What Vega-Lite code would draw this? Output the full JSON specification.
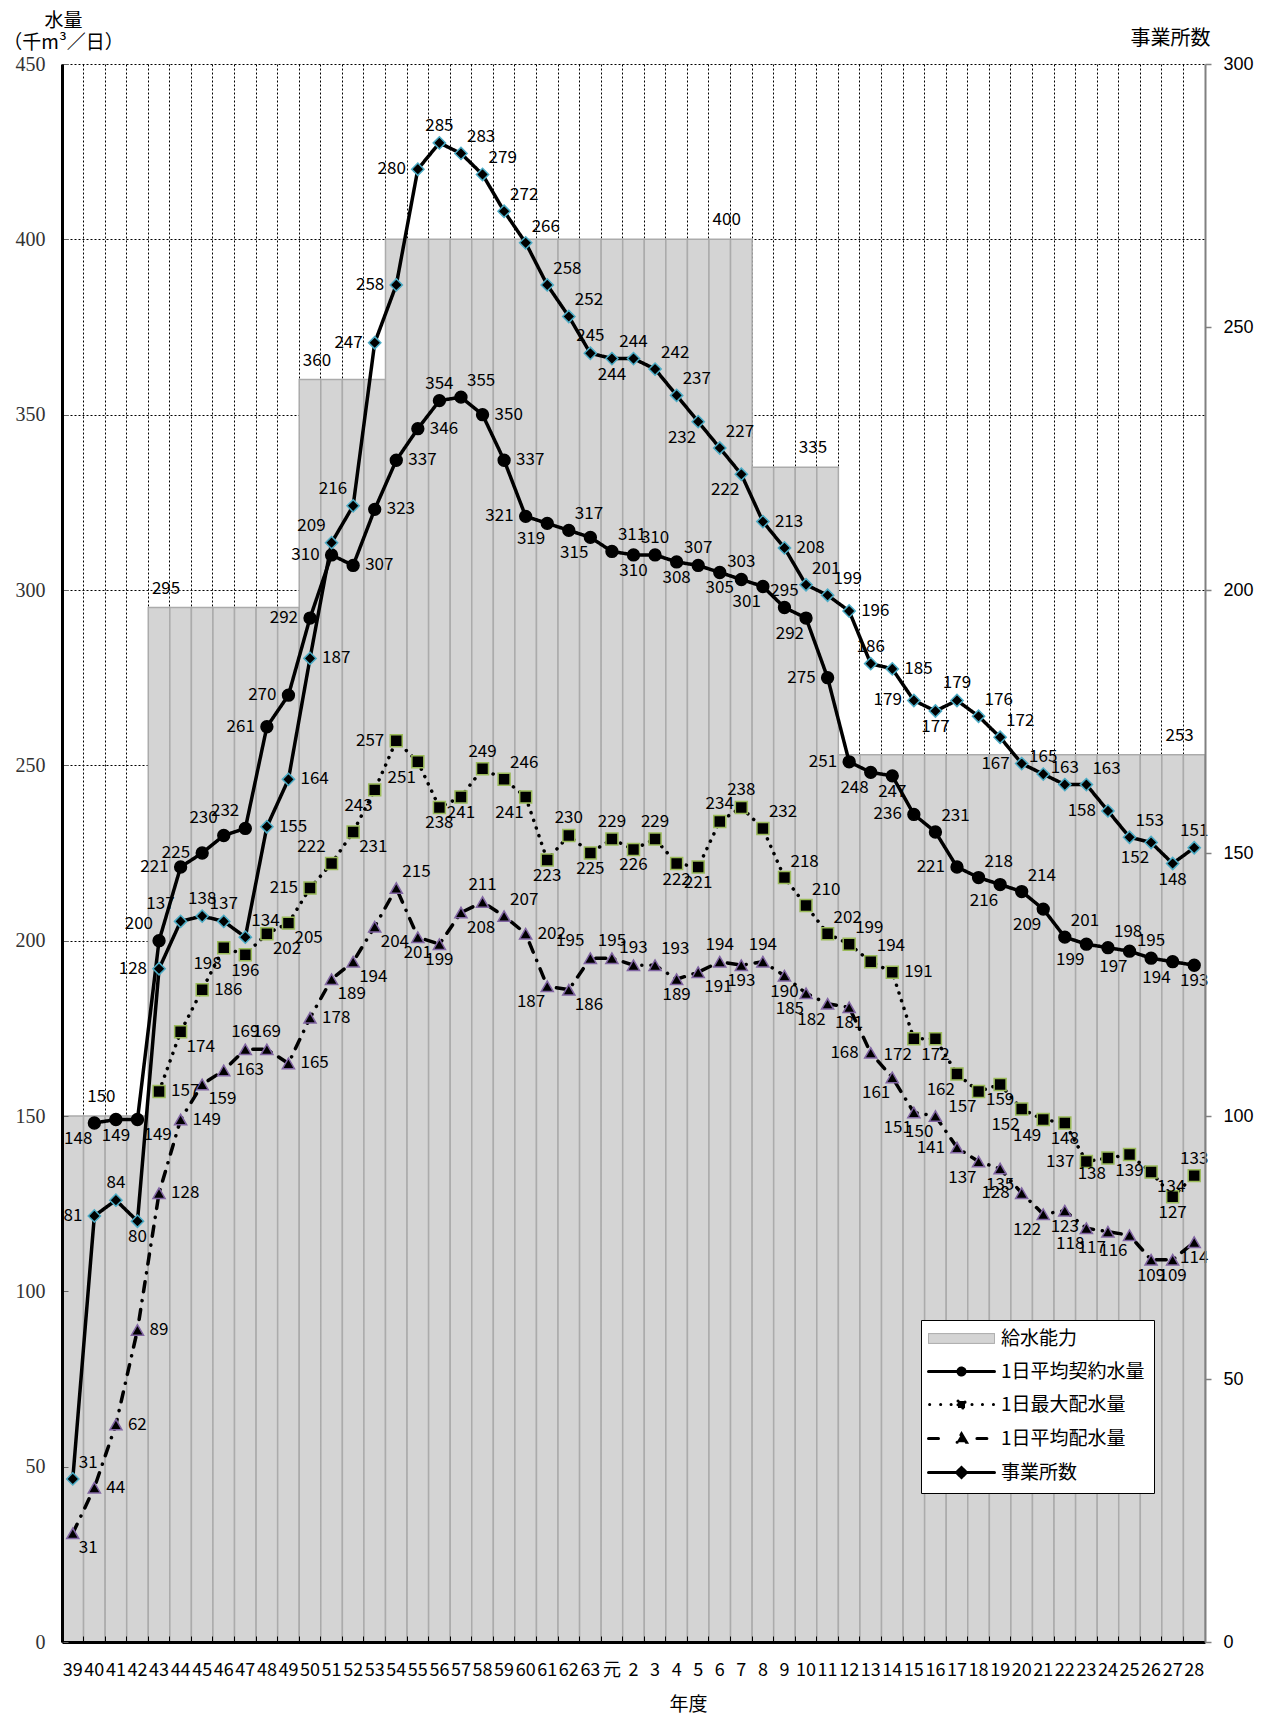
{
  "$schema": "https://vega.github.io/schema/vega-lite/v6.json",
  "width": 1143,
  "height": 1578,
  "autosize": {"type": "none"},
  "padding": {"left": 62, "top": 64, "right": 61, "bottom": 76},
  "background": "white",
  "config": {
    "font": "Noto Sans CJK JP",
    "view": {"stroke": null},
    "text": {"font": "Noto Sans CJK JP", "fontSize": 17, "color": "black"}
  },
  "datasets": {
    "cap": [
      {"yr":"39","cap":150},{"yr":"40","cap":150},{"yr":"41","cap":150},{"yr":"42","cap":150},
      {"yr":"43","cap":295},{"yr":"44","cap":295},{"yr":"45","cap":295},{"yr":"46","cap":295},{"yr":"47","cap":295},{"yr":"48","cap":295},{"yr":"49","cap":295},
      {"yr":"50","cap":360},{"yr":"51","cap":360},{"yr":"52","cap":360},{"yr":"53","cap":360},
      {"yr":"54","cap":400},{"yr":"55","cap":400},{"yr":"56","cap":400},{"yr":"57","cap":400},{"yr":"58","cap":400},{"yr":"59","cap":400},{"yr":"60","cap":400},{"yr":"61","cap":400},{"yr":"62","cap":400},{"yr":"63","cap":400},
      {"yr":"元","cap":400},{"yr":"2","cap":400},{"yr":"3","cap":400},{"yr":"4","cap":400},{"yr":"5","cap":400},{"yr":"6","cap":400},{"yr":"7","cap":400},
      {"yr":"8","cap":335},{"yr":"9","cap":335},{"yr":"10","cap":335},{"yr":"11","cap":335},
      {"yr":"12","cap":253},{"yr":"13","cap":253},{"yr":"14","cap":253},{"yr":"15","cap":253},{"yr":"16","cap":253},{"yr":"17","cap":253},{"yr":"18","cap":253},{"yr":"19","cap":253},{"yr":"20","cap":253},{"yr":"21","cap":253},{"yr":"22","cap":253},{"yr":"23","cap":253},{"yr":"24","cap":253},{"yr":"25","cap":253},{"yr":"26","cap":253},{"yr":"27","cap":253},{"yr":"28","cap":253}
    ],
    "pts": [
      {"yr":"40","s":"1日平均契約水量","v":148},{"yr":"41","s":"1日平均契約水量","v":149},{"yr":"42","s":"1日平均契約水量","v":149},{"yr":"43","s":"1日平均契約水量","v":200},{"yr":"44","s":"1日平均契約水量","v":221},{"yr":"45","s":"1日平均契約水量","v":225},{"yr":"46","s":"1日平均契約水量","v":230},{"yr":"47","s":"1日平均契約水量","v":232},{"yr":"48","s":"1日平均契約水量","v":261},{"yr":"49","s":"1日平均契約水量","v":270},{"yr":"50","s":"1日平均契約水量","v":292},{"yr":"51","s":"1日平均契約水量","v":310},{"yr":"52","s":"1日平均契約水量","v":307},{"yr":"53","s":"1日平均契約水量","v":323},{"yr":"54","s":"1日平均契約水量","v":337},{"yr":"55","s":"1日平均契約水量","v":346},{"yr":"56","s":"1日平均契約水量","v":354},{"yr":"57","s":"1日平均契約水量","v":355},{"yr":"58","s":"1日平均契約水量","v":350},{"yr":"59","s":"1日平均契約水量","v":337},{"yr":"60","s":"1日平均契約水量","v":321},{"yr":"61","s":"1日平均契約水量","v":319},{"yr":"62","s":"1日平均契約水量","v":317},{"yr":"63","s":"1日平均契約水量","v":315},{"yr":"元","s":"1日平均契約水量","v":311},{"yr":"2","s":"1日平均契約水量","v":310},{"yr":"3","s":"1日平均契約水量","v":310},{"yr":"4","s":"1日平均契約水量","v":308},{"yr":"5","s":"1日平均契約水量","v":307},{"yr":"6","s":"1日平均契約水量","v":305},{"yr":"7","s":"1日平均契約水量","v":303},{"yr":"8","s":"1日平均契約水量","v":301},{"yr":"9","s":"1日平均契約水量","v":295},{"yr":"10","s":"1日平均契約水量","v":292},{"yr":"11","s":"1日平均契約水量","v":275},{"yr":"12","s":"1日平均契約水量","v":251},{"yr":"13","s":"1日平均契約水量","v":248},{"yr":"14","s":"1日平均契約水量","v":247},{"yr":"15","s":"1日平均契約水量","v":236},{"yr":"16","s":"1日平均契約水量","v":231},{"yr":"17","s":"1日平均契約水量","v":221},{"yr":"18","s":"1日平均契約水量","v":218},{"yr":"19","s":"1日平均契約水量","v":216},{"yr":"20","s":"1日平均契約水量","v":214},{"yr":"21","s":"1日平均契約水量","v":209},{"yr":"22","s":"1日平均契約水量","v":201},{"yr":"23","s":"1日平均契約水量","v":199},{"yr":"24","s":"1日平均契約水量","v":198},{"yr":"25","s":"1日平均契約水量","v":197},{"yr":"26","s":"1日平均契約水量","v":195},{"yr":"27","s":"1日平均契約水量","v":194},{"yr":"28","s":"1日平均契約水量","v":193},
      {"yr":"43","s":"1日最大配水量","v":157},{"yr":"44","s":"1日最大配水量","v":174},{"yr":"45","s":"1日最大配水量","v":186},{"yr":"46","s":"1日最大配水量","v":198},{"yr":"47","s":"1日最大配水量","v":196},{"yr":"48","s":"1日最大配水量","v":202},{"yr":"49","s":"1日最大配水量","v":205},{"yr":"50","s":"1日最大配水量","v":215},{"yr":"51","s":"1日最大配水量","v":222},{"yr":"52","s":"1日最大配水量","v":231},{"yr":"53","s":"1日最大配水量","v":243},{"yr":"54","s":"1日最大配水量","v":257},{"yr":"55","s":"1日最大配水量","v":251},{"yr":"56","s":"1日最大配水量","v":238},{"yr":"57","s":"1日最大配水量","v":241},{"yr":"58","s":"1日最大配水量","v":249},{"yr":"59","s":"1日最大配水量","v":246},{"yr":"60","s":"1日最大配水量","v":241},{"yr":"61","s":"1日最大配水量","v":223},{"yr":"62","s":"1日最大配水量","v":230},{"yr":"63","s":"1日最大配水量","v":225},{"yr":"元","s":"1日最大配水量","v":229},{"yr":"2","s":"1日最大配水量","v":226},{"yr":"3","s":"1日最大配水量","v":229},{"yr":"4","s":"1日最大配水量","v":222},{"yr":"5","s":"1日最大配水量","v":221},{"yr":"6","s":"1日最大配水量","v":234},{"yr":"7","s":"1日最大配水量","v":238},{"yr":"8","s":"1日最大配水量","v":232},{"yr":"9","s":"1日最大配水量","v":218},{"yr":"10","s":"1日最大配水量","v":210},{"yr":"11","s":"1日最大配水量","v":202},{"yr":"12","s":"1日最大配水量","v":199},{"yr":"13","s":"1日最大配水量","v":194},{"yr":"14","s":"1日最大配水量","v":191},{"yr":"15","s":"1日最大配水量","v":172},{"yr":"16","s":"1日最大配水量","v":172},{"yr":"17","s":"1日最大配水量","v":162},{"yr":"18","s":"1日最大配水量","v":157},{"yr":"19","s":"1日最大配水量","v":159},{"yr":"20","s":"1日最大配水量","v":152},{"yr":"21","s":"1日最大配水量","v":149},{"yr":"22","s":"1日最大配水量","v":148},{"yr":"23","s":"1日最大配水量","v":137},{"yr":"24","s":"1日最大配水量","v":138},{"yr":"25","s":"1日最大配水量","v":139},{"yr":"26","s":"1日最大配水量","v":134},{"yr":"27","s":"1日最大配水量","v":127},{"yr":"28","s":"1日最大配水量","v":133},
      {"yr":"39","s":"1日平均配水量","v":31},{"yr":"40","s":"1日平均配水量","v":44},{"yr":"41","s":"1日平均配水量","v":62},{"yr":"42","s":"1日平均配水量","v":89},{"yr":"43","s":"1日平均配水量","v":128},{"yr":"44","s":"1日平均配水量","v":149},{"yr":"45","s":"1日平均配水量","v":159},{"yr":"46","s":"1日平均配水量","v":163},{"yr":"47","s":"1日平均配水量","v":169},{"yr":"48","s":"1日平均配水量","v":169},{"yr":"49","s":"1日平均配水量","v":165},{"yr":"50","s":"1日平均配水量","v":178},{"yr":"51","s":"1日平均配水量","v":189},{"yr":"52","s":"1日平均配水量","v":194},{"yr":"53","s":"1日平均配水量","v":204},{"yr":"54","s":"1日平均配水量","v":215},{"yr":"55","s":"1日平均配水量","v":201},{"yr":"56","s":"1日平均配水量","v":199},{"yr":"57","s":"1日平均配水量","v":208},{"yr":"58","s":"1日平均配水量","v":211},{"yr":"59","s":"1日平均配水量","v":207},{"yr":"60","s":"1日平均配水量","v":202},{"yr":"61","s":"1日平均配水量","v":187},{"yr":"62","s":"1日平均配水量","v":186},{"yr":"63","s":"1日平均配水量","v":195},{"yr":"元","s":"1日平均配水量","v":195},{"yr":"2","s":"1日平均配水量","v":193},{"yr":"3","s":"1日平均配水量","v":193},{"yr":"4","s":"1日平均配水量","v":189},{"yr":"5","s":"1日平均配水量","v":191},{"yr":"6","s":"1日平均配水量","v":194},{"yr":"7","s":"1日平均配水量","v":193},{"yr":"8","s":"1日平均配水量","v":194},{"yr":"9","s":"1日平均配水量","v":190},{"yr":"10","s":"1日平均配水量","v":185},{"yr":"11","s":"1日平均配水量","v":182},{"yr":"12","s":"1日平均配水量","v":181},{"yr":"13","s":"1日平均配水量","v":168},{"yr":"14","s":"1日平均配水量","v":161},{"yr":"15","s":"1日平均配水量","v":151},{"yr":"16","s":"1日平均配水量","v":150},{"yr":"17","s":"1日平均配水量","v":141},{"yr":"18","s":"1日平均配水量","v":137},{"yr":"19","s":"1日平均配水量","v":135},{"yr":"20","s":"1日平均配水量","v":128},{"yr":"21","s":"1日平均配水量","v":122},{"yr":"22","s":"1日平均配水量","v":123},{"yr":"23","s":"1日平均配水量","v":118},{"yr":"24","s":"1日平均配水量","v":117},{"yr":"25","s":"1日平均配水量","v":116},{"yr":"26","s":"1日平均配水量","v":109},{"yr":"27","s":"1日平均配水量","v":109},{"yr":"28","s":"1日平均配水量","v":114},
      {"yr":"39","s":"事業所数","v":31},{"yr":"40","s":"事業所数","v":81},{"yr":"41","s":"事業所数","v":84},{"yr":"42","s":"事業所数","v":80},{"yr":"43","s":"事業所数","v":128},{"yr":"44","s":"事業所数","v":137},{"yr":"45","s":"事業所数","v":138},{"yr":"46","s":"事業所数","v":137},{"yr":"47","s":"事業所数","v":134},{"yr":"48","s":"事業所数","v":155},{"yr":"49","s":"事業所数","v":164},{"yr":"50","s":"事業所数","v":187},{"yr":"51","s":"事業所数","v":209},{"yr":"52","s":"事業所数","v":216},{"yr":"53","s":"事業所数","v":247},{"yr":"54","s":"事業所数","v":258},{"yr":"55","s":"事業所数","v":280},{"yr":"56","s":"事業所数","v":285},{"yr":"57","s":"事業所数","v":283},{"yr":"58","s":"事業所数","v":279},{"yr":"59","s":"事業所数","v":272},{"yr":"60","s":"事業所数","v":266},{"yr":"61","s":"事業所数","v":258},{"yr":"62","s":"事業所数","v":252},{"yr":"63","s":"事業所数","v":245},{"yr":"元","s":"事業所数","v":244},{"yr":"2","s":"事業所数","v":244},{"yr":"3","s":"事業所数","v":242},{"yr":"4","s":"事業所数","v":237},{"yr":"5","s":"事業所数","v":232},{"yr":"6","s":"事業所数","v":227},{"yr":"7","s":"事業所数","v":222},{"yr":"8","s":"事業所数","v":213},{"yr":"9","s":"事業所数","v":208},{"yr":"10","s":"事業所数","v":201},{"yr":"11","s":"事業所数","v":199},{"yr":"12","s":"事業所数","v":196},{"yr":"13","s":"事業所数","v":186},{"yr":"14","s":"事業所数","v":185},{"yr":"15","s":"事業所数","v":179},{"yr":"16","s":"事業所数","v":177},{"yr":"17","s":"事業所数","v":179},{"yr":"18","s":"事業所数","v":176},{"yr":"19","s":"事業所数","v":172},{"yr":"20","s":"事業所数","v":167},{"yr":"21","s":"事業所数","v":165},{"yr":"22","s":"事業所数","v":163},{"yr":"23","s":"事業所数","v":163},{"yr":"24","s":"事業所数","v":158},{"yr":"25","s":"事業所数","v":153},{"yr":"26","s":"事業所数","v":152},{"yr":"27","s":"事業所数","v":148},{"yr":"28","s":"事業所数","v":151}
    ]
  },
  "resolve": {"scale": {"y": "independent"}, "axis": {"x": "independent"}},
  "layer": [
    {
      "data": {"name": "cap"},
      "mark": {"type": "bar", "fill": "#d4d4d4", "stroke": "#ababab", "strokeWidth": 1.5},
      "encoding": {
        "x": {"field": "yr", "type": "ordinal",
          "scale": {"domain": ["39","40","41","42","43","44","45","46","47","48","49","50","51","52","53","54","55","56","57","58","59","60","61","62","63","元","2","3","4","5","6","7","8","9","10","11","12","13","14","15","16","17","18","19","20","21","22","23","24","25","26","27","28"], "paddingInner": 0, "paddingOuter": 0},
          "axis": {"orient": "bottom", "grid": true, "gridColor": "#000000", "gridDash": [2, 2], "gridWidth": 1, "domain": false, "ticks": false, "labels": false, "title": null, "bandPosition": 0, "zindex": 0}},
        "y": {"field": "cap", "type": "quantitative",
          "scale": {"domain": [0, 450], "nice": false},
          "axis": {"orient": "left", "values": [0,50,100,150,200,250,300,350,400,450], "grid": true, "gridColor": "#000000", "gridDash": [2, 2], "gridWidth": 1, "domain": false, "ticks": false, "labels": false, "title": null, "zindex": 0}}
      }
    },
    {
      "data": {"name": "cap"},
      "transform": [{"filter": "indexof(['40','43','50','6','10','27'], datum.yr) >= 0"}],
      "mark": {"type": "text", "dx": 7, "dy": -19, "baseline": "middle", "align": "center"},
      "encoding": {
        "x": {"field": "yr", "type": "ordinal", "axis": null},
        "y": {"field": "cap", "type": "quantitative", "scale": {"domain": [0, 450], "nice": false}, "axis": null},
        "text": {"field": "cap", "type": "quantitative"}
      }
    },
    {
      "mark": {"type": "rule", "color": "black", "strokeWidth": 3},
      "encoding": {"y": {"datum": 450, "type": "quantitative", "scale": {"domain": [0, 450], "nice": false}, "axis": null}}
    },
    {
      "data": {"name": "pts"},
      "transform": [{"filter": "datum.s !== '事業所数'"}],
      "mark": {"type": "line", "color": "black", "strokeWidth": 3.5, "strokeCap": "round", "strokeJoin": "round"},
      "encoding": {
        "x": {"field": "yr", "type": "ordinal", "sort": null,
          "axis": {"orient": "bottom", "grid": false, "bandPosition": 0, "domain": true, "domainColor": "black", "domainWidth": 3, "ticks": true, "tickColor": "black", "tickSize": -6, "tickWidth": 1, "labelPadding": 25, "labelFont": "Noto Sans CJK JP", "labelFontSize": 18, "labelColor": "black", "labelAngle": 0, "labelOverlap": false, "labelBaseline": "top", "title": "年度", "titleFont": "Noto Sans CJK JP", "titleFontSize": 19, "titleFontWeight": "normal", "titleColor": "black", "titleX": 626, "titleY": 62, "titleAlign": "center", "titleBaseline": "middle", "titleAngle": 0, "zindex": 1}},
        "y": {"field": "v", "type": "quantitative", "scale": {"domain": [0, 450], "nice": false},
          "axis": {"orient": "left", "values": [0,50,100,150,200,250,300,350,400,450], "grid": false, "domain": true, "domainColor": "black", "domainWidth": 3, "ticks": true, "tickColor": "#666666", "tickSize": -6, "tickWidth": 1, "labelPadding": 23, "labelFont": "Liberation Serif", "labelFontSize": 20, "labelColor": "#333333", "title": ["水量", "（千m³／日）"], "titleFont": "Noto Sans CJK JP", "titleFontSize": 19, "titleFontWeight": "normal", "titleColor": "black", "titleAngle": 0, "titleX": 1, "titleY": -34, "titleAlign": "center", "titleBaseline": "bottom", "titleLineHeight": 22, "zindex": 1}},
        "strokeDash": {"field": "s", "type": "nominal",
          "scale": {"domain": ["給水能力","1日平均契約水量","1日最大配水量","1日平均配水量","事業所数"], "range": [[1,0],[1,0],[0.1,8],[10,9,0.1,9],[1,0]]},
          "legend": {
            "title": null, "orient": "none", "legendX": 859, "legendY": 1256, "direction": "vertical", "columns": 1,
            "symbolType": "M-3,0H3", "symbolSize": 484, "symbolStrokeWidth": 3, "symbolStrokeColor": "black", "symbolOffset": 22,
            "rowPadding": 12, "padding": 9, "labelOffset": 30,
            "labelFont": "Noto Sans CJK JP", "labelFontSize": 19, "labelColor": "black", "labelLimit": 400,
            "strokeColor": "black", "fillColor": "white", "zindex": 1,
            "encode": {"symbols": {"update": {
              "shape": {"signal": "datum.value === '給水能力' ? 'M-3,-0.45H3V0.45H-3Z' : datum.value === '1日平均契約水量' ? 'M-3,0H3M0.32,0A0.32,0.32 0 1,1 -0.32,0A0.32,0.32 0 1,1 0.32,0Z' : datum.value === '1日最大配水量' ? 'M-2.9,0h0.02M-1.9,0h0.02M-0.95,0h0.02M0.95,0h0.02M1.9,0h0.02M2.9,0h0.02M-0.32,-0.32H0.32V0.32H-0.32Z' : datum.value === '1日平均配水量' ? 'M-3,0H-1.4M1.4,0H3M0,-0.42L0.45,0.34H-0.45Z' : 'M-3,0H3M0,-0.45L0.45,0L0,0.45L-0.45,0Z'"},
              "fill": {"signal": "datum.value === '給水能力' ? '#d4d4d4' : 'black'"},
              "stroke": {"signal": "datum.value === '給水能力' ? '#b0b0b0' : 'black'"},
              "strokeWidth": {"signal": "datum.value === '給水能力' ? 1 : 3"},
              "strokeDash": {"value": [1, 0]},
              "strokeCap": {"value": "round"}
            }}}
          }}
      }
    },
    {
      "data": {"name": "pts"},
      "transform": [{"filter": "datum.s !== '事業所数'"}],
      "mark": {"type": "point", "filled": true, "fill": "black", "opacity": 1, "strokeWidth": 1.5},
      "encoding": {
        "x": {"field": "yr", "type": "ordinal", "axis": null},
        "y": {"field": "v", "type": "quantitative", "scale": {"domain": [0, 450], "nice": false}, "axis": null},
        "shape": {"field": "s", "type": "nominal", "scale": {"domain": ["1日平均契約水量","1日最大配水量","1日平均配水量","事業所数"], "range": ["circle","square","triangle-up","diamond"]}, "legend": null},
        "stroke": {"field": "s", "type": "nominal", "scale": {"domain": ["1日平均契約水量","1日最大配水量","1日平均配水量","事業所数"], "range": ["black","#9bbb59","#8064a2","#4bacc6"]}, "legend": null},
        "size": {"field": "s", "type": "ordinal", "scale": {"domain": ["1日平均契約水量","1日最大配水量","1日平均配水量","事業所数"], "range": [140, 150, 190, 260]}, "legend": null}
      }
    },
    {
      "data": {"name": "pts"},
      "transform": [{"filter": "datum.s !== '事業所数' && indexof(datum.s === '1日平均契約水量' ? ['3','5','7','9','26','56'] : datum.s === '1日最大配水量' ? ['58','62','元','3','6','7','28'] : ['47','48','58','元','2','6','8'], datum.yr) >= 0"}],
      "mark": {"type": "text", "align": "center", "baseline": "bottom", "dx": 0, "dy": -8},
      "encoding": {"x": {"field": "yr", "type": "ordinal", "axis": null}, "y": {"field": "v", "type": "quantitative", "scale": {"domain": [0, 450], "nice": false}, "axis": null}, "text": {"field": "v", "type": "quantitative"}}
    },
    {
      "data": {"name": "pts"},
      "transform": [{"filter": "datum.s !== '事業所数' && indexof(datum.s === '1日平均契約水量' ? ['57','62','元','16','18','20','22','24'] : datum.s === '1日最大配水量' ? ['59','8','9','10','11','12','13'] : ['54','59','3'], datum.yr) >= 0"}],
      "mark": {"type": "text", "align": "left", "baseline": "bottom", "dx": 6, "dy": -7},
      "encoding": {"x": {"field": "yr", "type": "ordinal", "axis": null}, "y": {"field": "v", "type": "quantitative", "scale": {"domain": [0, 450], "nice": false}, "axis": null}, "text": {"field": "v", "type": "quantitative"}}
    },
    {
      "data": {"name": "pts"},
      "transform": [{"filter": "datum.s !== '事業所数' && indexof(datum.s === '1日平均契約水量' ? ['43','46','47'] : datum.s === '1日最大配水量' ? ['51'] : ['63'], datum.yr) >= 0"}],
      "mark": {"type": "text", "align": "right", "baseline": "bottom", "dx": -6, "dy": -8},
      "encoding": {"x": {"field": "yr", "type": "ordinal", "axis": null}, "y": {"field": "v", "type": "quantitative", "scale": {"domain": [0, 450], "nice": false}, "axis": null}, "text": {"field": "v", "type": "quantitative"}}
    },
    {
      "data": {"name": "pts"},
      "transform": [{"filter": "datum.s !== '事業所数' && indexof(datum.s === '1日平均契約水量' ? ['41','2','4','6','14','28'] : datum.s === '1日最大配水量' ? ['47','56','57','61','63','2','4','5','16','19','22','25','27'] : ['55','56','4','7','9','12','19','22','26','27','28'], datum.yr) >= 0"}],
      "mark": {"type": "text", "align": "center", "baseline": "top", "dx": 0, "dy": 8},
      "encoding": {"x": {"field": "yr", "type": "ordinal", "axis": null}, "y": {"field": "v", "type": "quantitative", "scale": {"domain": [0, 450], "nice": false}, "axis": null}, "text": {"field": "v", "type": "quantitative"}}
    },
    {
      "data": {"name": "pts"},
      "transform": [{"filter": "datum.s !== '事業所数' && indexof(datum.s === '1日平均契約水量' ? ['40','61','63','8','10','13','19','21','23','25','27'] : datum.s === '1日最大配水量' ? ['46','53','55','60','15','17','18','20','21','24'] : ['61','10','11','14','15','16','18','21','23','24','25'], datum.yr) >= 0"}],
      "mark": {"type": "text", "align": "right", "baseline": "top", "dx": -2, "dy": 8},
      "encoding": {"x": {"field": "yr", "type": "ordinal", "axis": null}, "y": {"field": "v", "type": "quantitative", "scale": {"domain": [0, 450], "nice": false}, "axis": null}, "text": {"field": "v", "type": "quantitative"}}
    },
    {
      "data": {"name": "pts"},
      "transform": [{"filter": "datum.s !== '事業所数' && indexof(datum.s === '1日平均契約水量' ? ['42'] : datum.s === '1日最大配水量' ? ['44','48','49','52','26'] : ['39','45','51','52','53','57','62','5'], datum.yr) >= 0"}],
      "mark": {"type": "text", "align": "left", "baseline": "top", "dx": 6, "dy": 7},
      "encoding": {"x": {"field": "yr", "type": "ordinal", "axis": null}, "y": {"field": "v", "type": "quantitative", "scale": {"domain": [0, 450], "nice": false}, "axis": null}, "text": {"field": "v", "type": "quantitative"}}
    },
    {
      "data": {"name": "pts"},
      "transform": [{"filter": "datum.s !== '事業所数' && indexof(datum.s === '1日平均契約水量' ? ['44','45','48','49','50','51','60','11','12','15','17'] : datum.s === '1日最大配水量' ? ['50','54','23'] : ['13','17','20'], datum.yr) >= 0"}],
      "mark": {"type": "text", "align": "right", "baseline": "middle", "dx": -12, "dy": 0},
      "encoding": {"x": {"field": "yr", "type": "ordinal", "axis": null}, "y": {"field": "v", "type": "quantitative", "scale": {"domain": [0, 450], "nice": false}, "axis": null}, "text": {"field": "v", "type": "quantitative"}}
    },
    {
      "data": {"name": "pts"},
      "transform": [{"filter": "datum.s !== '事業所数' && indexof(datum.s === '1日平均契約水量' ? ['52','53','54','55','58','59'] : datum.s === '1日最大配水量' ? ['43','45','14'] : ['40','41','42','43','44','46','49','50','60'], datum.yr) >= 0"}],
      "mark": {"type": "text", "align": "left", "baseline": "middle", "dx": 12, "dy": 0},
      "encoding": {"x": {"field": "yr", "type": "ordinal", "axis": null}, "y": {"field": "v", "type": "quantitative", "scale": {"domain": [0, 450], "nice": false}, "axis": null}, "text": {"field": "v", "type": "quantitative"}}
    },
    {
      "data": {"name": "pts"},
      "transform": [{"filter": "datum.s === '事業所数'"}],
      "mark": {"type": "line", "color": "black", "strokeWidth": 3.5, "strokeCap": "round", "strokeJoin": "round"},
      "encoding": {
        "x": {"field": "yr", "type": "ordinal", "sort": null, "axis": null},
        "y": {"field": "v", "type": "quantitative",
          "scale": {"domain": [0, 300], "nice": false},
          "axis": {"orient": "right", "values": [0,50,100,150,200,250,300], "grid": false, "domain": true, "domainColor": "#808080", "domainWidth": 2, "ticks": true, "tickColor": "#808080", "tickSize": 6, "tickWidth": 1.5, "labelPadding": 12, "labelFont": "Liberation Sans", "labelFontSize": 18, "labelColor": "black", "title": "事業所数", "titleFont": "Noto Sans CJK JP", "titleFontSize": 20, "titleFontWeight": "normal", "titleColor": "black", "titleAngle": 0, "titleX": -35, "titleY": -26, "titleAlign": "center", "titleBaseline": "middle", "zindex": 1}},
        "strokeDash": {"field": "s", "type": "nominal",
          "scale": {"domain": ["給水能力","1日平均契約水量","1日最大配水量","1日平均配水量","事業所数"], "range": [[1,0],[1,0],[0.1,8],[10,9,0.1,9],[1,0]]},
          "legend": null}
      }
    },
    {
      "data": {"name": "pts"},
      "transform": [{"filter": "datum.s === '事業所数'"}],
      "mark": {"type": "point", "filled": true, "fill": "black", "opacity": 1, "strokeWidth": 1.5},
      "encoding": {
        "x": {"field": "yr", "type": "ordinal", "axis": null},
        "y": {"field": "v", "type": "quantitative", "scale": {"domain": [0, 300], "nice": false}, "axis": null},
        "shape": {"field": "s", "type": "nominal", "scale": {"domain": ["1日平均契約水量","1日最大配水量","1日平均配水量","事業所数"], "range": ["circle","square","triangle-up","diamond"]}, "legend": null},
        "stroke": {"field": "s", "type": "nominal", "scale": {"domain": ["1日平均契約水量","1日最大配水量","1日平均配水量","事業所数"], "range": ["black","#9bbb59","#8064a2","#4bacc6"]}, "legend": null},
        "size": {"field": "s", "type": "ordinal", "scale": {"domain": ["1日平均契約水量","1日最大配水量","1日平均配水量","事業所数"], "range": [140, 150, 190, 260]}, "legend": null}
      }
    },
    {
      "data": {"name": "pts"},
      "transform": [{"filter": "datum.s === '事業所数' && indexof(['41','45','46','56','63','2','13','17','21','22','28'], datum.yr) >= 0"}],
      "mark": {"type": "text", "align": "center", "baseline": "bottom", "dx": 0, "dy": -8},
      "encoding": {"x": {"field": "yr", "type": "ordinal", "axis": null}, "y": {"field": "v", "type": "quantitative", "scale": {"domain": [0, 300], "nice": false}, "axis": null}, "text": {"field": "v", "type": "quantitative"}}
    },
    {
      "data": {"name": "pts"},
      "transform": [{"filter": "datum.s === '事業所数' && indexof(['39','47','57','58','59','60','61','62','3','4','6','10','11','18','19','23','25'], datum.yr) >= 0"}],
      "mark": {"type": "text", "align": "left", "baseline": "bottom", "dx": 6, "dy": -7},
      "encoding": {"x": {"field": "yr", "type": "ordinal", "axis": null}, "y": {"field": "v", "type": "quantitative", "scale": {"domain": [0, 300], "nice": false}, "axis": null}, "text": {"field": "v", "type": "quantitative"}}
    },
    {
      "data": {"name": "pts"},
      "transform": [{"filter": "datum.s === '事業所数' && indexof(['44','51','52'], datum.yr) >= 0"}],
      "mark": {"type": "text", "align": "right", "baseline": "bottom", "dx": -6, "dy": -8},
      "encoding": {"x": {"field": "yr", "type": "ordinal", "axis": null}, "y": {"field": "v", "type": "quantitative", "scale": {"domain": [0, 300], "nice": false}, "axis": null}, "text": {"field": "v", "type": "quantitative"}}
    },
    {
      "data": {"name": "pts"},
      "transform": [{"filter": "datum.s === '事業所数' && indexof(['42','元','16','27'], datum.yr) >= 0"}],
      "mark": {"type": "text", "align": "center", "baseline": "top", "dx": 0, "dy": 8},
      "encoding": {"x": {"field": "yr", "type": "ordinal", "axis": null}, "y": {"field": "v", "type": "quantitative", "scale": {"domain": [0, 300], "nice": false}, "axis": null}, "text": {"field": "v", "type": "quantitative"}}
    },
    {
      "data": {"name": "pts"},
      "transform": [{"filter": "datum.s === '事業所数' && indexof(['5','7','26'], datum.yr) >= 0"}],
      "mark": {"type": "text", "align": "right", "baseline": "top", "dx": -2, "dy": 8},
      "encoding": {"x": {"field": "yr", "type": "ordinal", "axis": null}, "y": {"field": "v", "type": "quantitative", "scale": {"domain": [0, 300], "nice": false}, "axis": null}, "text": {"field": "v", "type": "quantitative"}}
    },
    {
      "data": {"name": "pts"},
      "transform": [{"filter": "datum.s === '事業所数' && indexof(['40','43','53','54','55','15','20','24'], datum.yr) >= 0"}],
      "mark": {"type": "text", "align": "right", "baseline": "middle", "dx": -12, "dy": 0},
      "encoding": {"x": {"field": "yr", "type": "ordinal", "axis": null}, "y": {"field": "v", "type": "quantitative", "scale": {"domain": [0, 300], "nice": false}, "axis": null}, "text": {"field": "v", "type": "quantitative"}}
    },
    {
      "data": {"name": "pts"},
      "transform": [{"filter": "datum.s === '事業所数' && indexof(['48','49','50','8','9','12','14'], datum.yr) >= 0"}],
      "mark": {"type": "text", "align": "left", "baseline": "middle", "dx": 12, "dy": 0},
      "encoding": {"x": {"field": "yr", "type": "ordinal", "axis": null}, "y": {"field": "v", "type": "quantitative", "scale": {"domain": [0, 300], "nice": false}, "axis": null}, "text": {"field": "v", "type": "quantitative"}}
    }
  ]
}
